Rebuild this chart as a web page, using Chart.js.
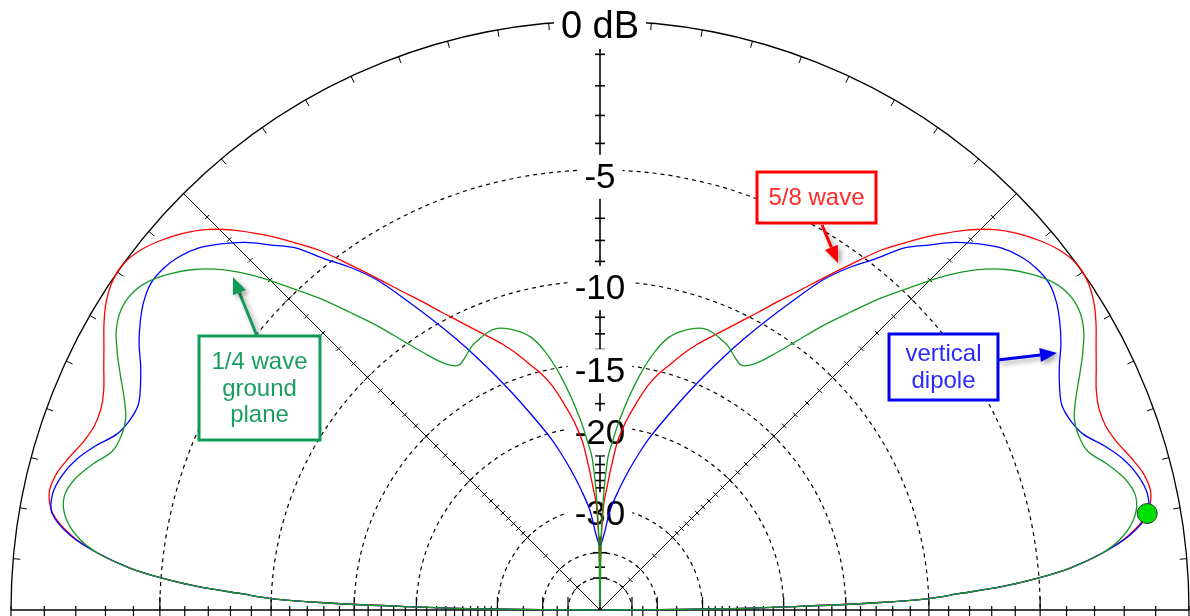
<!DOCTYPE html>
<html>
<head>
<meta charset="utf-8">
<title>Elevation pattern</title>
<script src="https://cdn.jsdelivr.net/npm/chart.js@4.4.1/dist/chart.umd.min.js"></script>
<style>
  html, body { margin: 0; padding: 0; background: #fff; }
  #wrap { width: 1190px; height: 616px; }
</style>
</head>
<body>
<div id="wrap"><canvas id="chart"></canvas></div>
<script>
// elevation angle in degrees (0 = right horizon, 90 = zenith, 180 = left horizon)
const elevation = [
  0, 0.5, 1, 1.5, 2, 2.6, 3.3, 4.2, 5.1, 6.5,
  8, 10, 12, 14, 16, 18, 20, 22, 24, 26,
  28, 30, 32, 34, 36, 38, 40, 42, 44, 46,
  48, 50, 52, 54, 56, 58, 60, 62, 64, 66,
  68, 70, 72, 74, 76, 78, 80, 82, 84,
  85, 86, 87, 88, 89, 90,
  91, 92, 93, 94, 95,
  96, 98, 100, 102, 104, 106, 108, 110, 112,
  114, 116, 118, 120, 122, 124, 126, 128, 130, 132,
  134, 136, 138, 140, 142, 144, 146, 148, 150, 152,
  154, 156, 158, 160, 162, 164, 166, 168, 170, 172,
  173.5, 174.9, 175.8, 176.7, 177.4, 178, 178.5, 179, 179.5, 180
];

// gain in dB
const fiveEighthsWave = [
  -90, -28, -19, -13, -10, -8.5, -6.6, -5.0, -3.8, -2.6,
  -1.7, -1.0, -0.77, -0.85, -1.1, -1.38, -1.55, -1.55, -1.39, -1.11,
  -0.81, -0.48, -0.2, -0.03, 0, -0.15, -0.43, -0.79, -1.25, -1.87,
  -2.63, -3.48, -4.36, -5.5, -6.6, -7.67, -8.62, -9.57, -10.41, -11.2,
  -11.92, -12.62, -13.42, -14.32, -15.14, -16.2, -17.67, -19.26, -21.3,
  -23.2, -25.3, -27.4, -29.4, -36, -47,
  -36, -29.4, -27.4, -25.3, -23.2,
  -21.3, -19.26, -17.67, -16.2, -15.14, -14.32, -13.42, -12.62, -11.92,
  -11.2, -10.41, -9.57, -8.62, -7.67, -6.6, -5.5, -4.36, -3.48, -2.63,
  -1.87, -1.25, -0.79, -0.43, -0.15, 0, -0.03, -0.2, -0.48, -0.81,
  -1.11, -1.39, -1.55, -1.55, -1.38, -1.1, -0.85, -0.77, -1.0, -1.7,
  -2.6, -3.8, -5.0, -6.6, -8.5, -10, -13, -19, -28, -90
];

const verticalDipole = [
  -90, -28, -19, -13, -10, -8.5, -6.6, -5.0, -3.8, -2.6,
  -1.66, -0.98, -0.88, -1.03, -1.33, -1.79, -2.33, -2.57, -2.63, -2.43,
  -2.13, -1.74, -1.42, -1.16, -1.01, -1.04, -1.19, -1.47, -1.91, -2.44,
  -3.12, -3.79, -4.81, -5.68, -6.74, -8.2, -9.68, -11.16, -12.7, -14.27,
  -15.86, -17.45, -18.97, -20.46, -22.2, -24.03, -25.96, -28.0, -30.1,
  -31.7, -33.7, -35.3, -36.5, -37.5, -38,
  -37.5, -36.5, -35.3, -33.7, -31.7,
  -30.1, -28.0, -25.96, -24.03, -22.2, -20.46, -18.97, -17.45, -15.86,
  -14.27, -12.7, -11.16, -9.68, -8.2, -6.74, -5.68, -4.81, -3.79, -3.12,
  -2.44, -1.91, -1.47, -1.19, -1.04, -1.01, -1.16, -1.42, -1.74, -2.13,
  -2.43, -2.63, -2.57, -2.33, -1.79, -1.33, -1.03, -0.88, -0.98, -1.66,
  -2.6, -3.8, -5.0, -6.6, -8.5, -10, -13, -19, -28, -90
];

const quarterWaveGP = [
  -90, -28, -19, -13, -10, -8.5, -6.6, -5.0, -3.8, -2.6,
  -1.88, -1.39, -1.25, -1.45, -1.87, -2.37, -2.49, -2.42, -2.11, -1.70,
  -1.28, -0.91, -0.71, -0.71, -0.91, -1.30, -1.82, -2.52, -3.47, -4.65,
  -5.82, -7.15, -8.45, -9.9, -11.18, -12.17, -12.6, -12.35, -11.98, -11.77,
  -11.6, -11.6, -11.83, -12.2, -12.75, -13.76, -15.21, -17.06, -19.16,
  -20.4, -21.74, -23.1, -27, -35, -90,
  -35, -27, -23.1, -21.74, -20.4,
  -19.16, -17.06, -15.21, -13.76, -12.75, -12.2, -11.83, -11.6, -11.6,
  -11.77, -11.98, -12.35, -12.6, -12.17, -11.18, -9.9, -8.45, -7.15, -5.82,
  -4.65, -3.47, -2.52, -1.82, -1.30, -0.91, -0.71, -0.71, -0.91, -1.28,
  -1.70, -2.11, -2.42, -2.49, -2.37, -1.87, -1.45, -1.25, -1.39, -1.88,
  -2.6, -3.8, -5.0, -6.6, -8.5, -10, -13, -19, -28, -90
];

// cursor marker
const markerElev = [10];
const markerDb = [-1.0];

// radial axis
const ringDb = [-5, -10, -15, -20, -30, -40, -50];
const tickLabels = ['0 dB', '-5', '-10', '-15', '-20', '-30'];
const tickLabelDb = [0, -5, -10, -15, -20, -30];

// ARRL log scale: 0.89 per 2 dB
function rho(db) {
  return Math.pow(0.89, -db / 2);
}
function toXY(el, db) {
  const a = el * Math.PI / 180;
  return { x: rho(db) * Math.cos(a), y: rho(db) * Math.sin(a) };
}

const FONT = "Arial, 'Liberation Sans', sans-serif";

const notes = [
  { lines: ['5/8 wave'], box: [0.2666, 0.7436, 0.4686, 0.657], arrow: [0.3769, 0.6537, 0.4041, 0.5891],
    text: '#ff2a2a', border: '#ff0000' },
  { lines: ['vertical', 'dipole'], box: [0.4907, 0.4686, 0.6757, 0.3565], arrow: [0.6757, 0.4244, 0.7759, 0.4363],
    text: '#2a2aff', border: '#0000ee' },
  { lines: ['1/4 wave', 'ground', 'plane'], box: [-0.6808, 0.4652, -0.4754, 0.2886], arrow: [-0.5823, 0.4652, -0.6231, 0.5654],
    text: '#1a9e5e', border: '#109a58' }
];

const gridPlugin = {
  id: 'polarGrid',
  beforeDatasetsDraw(chart) {
    const { ctx } = chart;
    const xs = chart.scales.x, ys = chart.scales.y;
    const cx = xs.getPixelForValue(0), cy = ys.getPixelForValue(0);
    const R = xs.getPixelForValue(1) - cx;
    const rad = db => R * rho(db);

    ctx.save();
    ctx.strokeStyle = '#000';

    // dashed rings
    ctx.lineWidth = 1.2;
    ctx.setLineDash([4, 4]);
    ringDb.forEach(db => {
      ctx.beginPath();
      ctx.arc(cx, cy, rad(db), Math.PI, 2 * Math.PI);
      ctx.stroke();
    });
    ctx.setLineDash([]);

    // outer circle + ticks every 5 degrees
    ctx.lineWidth = 1.3;
    ctx.beginPath();
    ctx.arc(cx, cy, R, Math.PI, 2 * Math.PI);
    ctx.stroke();
    ctx.lineWidth = 1;
    for (let a = 5; a < 180; a += 5) {
      if (a % 45 === 0) continue;
      const t = a * Math.PI / 180;
      ctx.beginPath();
      ctx.moveTo(cx + R * Math.cos(t), cy - R * Math.sin(t));
      ctx.lineTo(cx + (R - 7) * Math.cos(t), cy - (R - 7) * Math.sin(t));
      ctx.stroke();
    }

    // dB tick positions along the spokes
    const tickDb = [];
    for (let d = -1; d >= -30; d--) tickDb.push(d);
    tickDb.push(-35, -40, -45, -50);

    // spokes
    [45, 90, 135].forEach(a => {
      const t = a * Math.PI / 180;
      const c = Math.cos(t), s = Math.sin(t);
      ctx.lineWidth = a === 90 ? 1.6 : 1;
      ctx.beginPath();
      ctx.moveTo(cx, cy);
      ctx.lineTo(cx + R * c, cy - R * s);
      ctx.stroke();
      tickDb.forEach(db => {
        const r = rad(db);
        const big = ringDb.includes(db);
        const h = a === 90 ? (big ? 7 : 5) : (big ? 5 : 3);
        const px = cx + r * c, py = cy - r * s;
        ctx.beginPath();
        ctx.moveTo(px - h * s, py - h * c);
        ctx.lineTo(px + h * s, py + h * c);
        ctx.stroke();
      });
    });

    // baseline
    ctx.lineWidth = 1.6;
    ctx.beginPath();
    ctx.moveTo(cx - R, cy);
    ctx.lineTo(cx + R, cy);
    ctx.stroke();
    ctx.lineWidth = 1.2;
    tickDb.concat([0]).forEach(db => {
      const r = rad(db);
      const up = ringDb.includes(db) ? 13 : 4;
      [-1, 1].forEach(side => {
        ctx.beginPath();
        ctx.moveTo(cx + side * r, cy - up);
        ctx.lineTo(cx + side * r, cy + 6);
        ctx.stroke();
      });
    });

    // radial labels on white patches
    tickLabels.forEach((txt, i) => {
      const db = tickLabelDb[i];
      const size = db === 0 ? 38 : 35;
      ctx.font = size + 'px ' + FONT;
      const w = ctx.measureText(txt).width;
      const ty = cy - rad(db) + (db === 0 ? 6 : 7);
      ctx.fillStyle = '#fff';
      ctx.fillRect(cx - w / 2 - 7, ty - 22, w + 14, 44);
      ctx.fillStyle = '#000';
      ctx.textAlign = 'center';
      ctx.textBaseline = 'middle';
      ctx.fillText(txt, cx, ty + 1);
    });
    ctx.restore();
  }
};

function drawArrow(ctx, x0, y0, x1, y1, color) {
  const ang = Math.atan2(y1 - y0, x1 - x0);
  const head = 17, hw = 7;
  const bx = x1 - head * Math.cos(ang), by = y1 - head * Math.sin(ang);
  ctx.save();
  ctx.shadowColor = 'rgba(0,0,0,0.35)';
  ctx.shadowBlur = 5;
  ctx.shadowOffsetX = 3;
  ctx.shadowOffsetY = 3;
  ctx.strokeStyle = color;
  ctx.fillStyle = color;
  ctx.lineWidth = 3;
  ctx.beginPath();
  ctx.moveTo(x0, y0);
  ctx.lineTo(bx, by);
  ctx.stroke();
  ctx.beginPath();
  ctx.moveTo(x1, y1);
  ctx.lineTo(bx + hw * Math.sin(ang), by - hw * Math.cos(ang));
  ctx.lineTo(bx - hw * Math.sin(ang), by + hw * Math.cos(ang));
  ctx.closePath();
  ctx.fill();
  ctx.restore();
}

const notesPlugin = {
  id: 'notes',
  afterDatasetsDraw(chart) {
    const { ctx } = chart;
    const xs = chart.scales.x, ys = chart.scales.y;
    const X = v => xs.getPixelForValue(v), Y = v => ys.getPixelForValue(v);
    notes.forEach(n => {
      drawArrow(ctx, X(n.arrow[0]), Y(n.arrow[1]), X(n.arrow[2]), Y(n.arrow[3]), n.border);
      const x0 = X(n.box[0]), y0 = Y(n.box[1]), x1 = X(n.box[2]), y1 = Y(n.box[3]);
      ctx.save();
      ctx.fillStyle = '#fff';
      ctx.fillRect(x0, y0, x1 - x0, y1 - y0);
      ctx.strokeStyle = n.border;
      ctx.lineWidth = 3;
      ctx.strokeRect(x0, y0, x1 - x0, y1 - y0);
      ctx.fillStyle = n.text;
      ctx.font = '24px ' + FONT;
      ctx.textAlign = 'center';
      ctx.textBaseline = 'middle';
      const lh = 26.5;
      const mid = (y0 + y1) / 2;
      n.lines.forEach((t, i) => {
        ctx.fillText(t, (x0 + x1) / 2, mid + (i - (n.lines.length - 1) / 2) * lh + 1);
      });
      ctx.restore();
    });
  }
};

function series(label, values, color) {
  return {
    label: label,
    data: elevation.map((el, i) => toXY(el, values[i])),
    showLine: true,
    borderColor: color,
    backgroundColor: color,
    borderWidth: 1.3,
    pointRadius: 0,
    tension: 0.3,
    clip: false
  };
}

new Chart(document.getElementById('chart'), {
  type: 'scatter',
  data: {
    datasets: [
      {
        label: 'cursor',
        data: markerElev.map((el, i) => toXY(el, markerDb[i])),
        showLine: false,
        pointRadius: 10,
        backgroundColor: '#00e000',
        borderColor: '#303030',
        borderWidth: 1,
        clip: false
      },
      series('1/4 wave ground plane', quarterWaveGP, '#179a24'),
      series('vertical dipole', verticalDipole, '#0000ff'),
      series('5/8 wave', fiveEighthsWave, '#ff0000')
    ]
  },
  options: {
    responsive: true,
    maintainAspectRatio: false,
    animation: false,
    devicePixelRatio: 1,
    layout: { autoPadding: false, padding: { left: 11, right: 1, top: 21, bottom: 6 } },
    scales: {
      x: { type: 'linear', min: -1, max: 1, display: false },
      y: { type: 'linear', min: 0, max: 1, display: false }
    },
    plugins: {
      legend: { display: false },
      tooltip: { enabled: false }
    }
  },
  plugins: [gridPlugin, notesPlugin]
});
</script>
</body>
</html>
